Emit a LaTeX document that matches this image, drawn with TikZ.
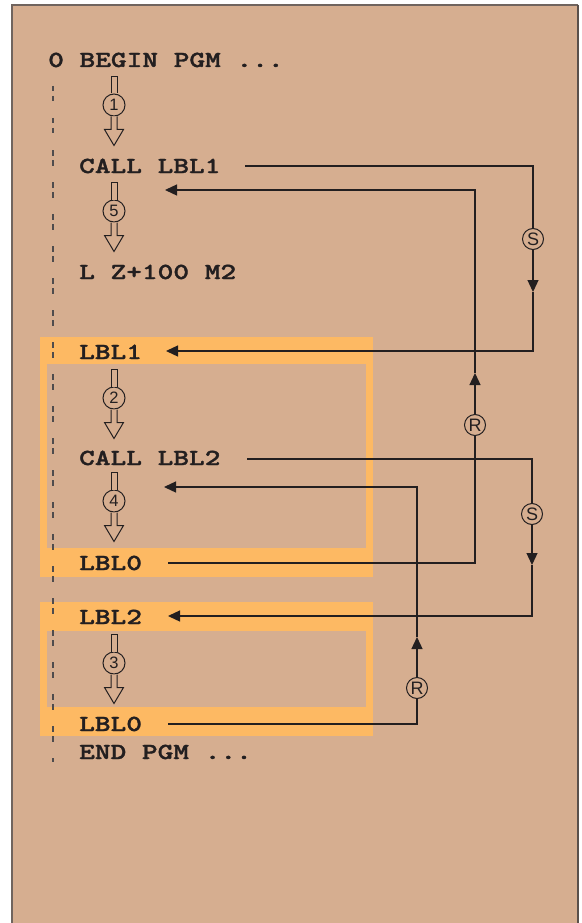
\documentclass[tikz,border=0pt]{standalone}
\usepackage{fontspec}
\usetikzlibrary{arrows.meta}
\newfontfamily\codefont{lmmonolt10-bold.otf}[FakeStretch=1.3,FakeBold=1.6]
\newfontfamily\labelfont{Liberation Sans}
\definecolor{tanbg}{RGB}{214,174,144}
\definecolor{orng}{RGB}{253,185,99}
\definecolor{ink}{RGB}{35,31,32}
\definecolor{frame}{RGB}{112,100,94}
\tikzset{
  code/.style={font=\codefont\fontsize{23}{23}\selectfont, text=ink, inner sep=0pt, anchor=base west},
  conn/.style={draw=ink, line width=1.3pt},
  arrowend/.style={-{Triangle[length=12pt,width=11pt]}},
  sr/.style={circle, draw=ink, line width=1pt, fill=tanbg, minimum size=21pt, inner sep=0pt,
    font=\labelfont\fontsize{18}{18}\selectfont, text=ink},
  stepcirc/.style={circle, draw=ink, line width=1pt, fill=tanbg, minimum size=22pt, inner sep=0pt,
    font=\labelfont\fontsize{16.5}{16.5}\selectfont, text=ink},
  hollow/.style={draw=ink, line width=1pt, fill=tanbg, line join=miter},
  guide/.style={draw=ink!80, line width=1.3pt, dash pattern=on 5.5pt off 4.5pt on 5.5pt off 16.5pt},
  orangeband/.style={fill=orng},
  innerarea/.style={fill=tanbg}
}
\newcommand\flowstep[3]{%
  \node[stepcirc] (#1) at (114,#2) {#3};
  \draw[hollow] ([xshift=-3pt]#1.north) -- ++(0,-17) -- ++(6,0) -- ([xshift=3pt]#1.north);
  \draw[hollow] ([xshift=-3pt]#1.south) -- ++(0,13) -- ++(-6.5,0) -- ++(9.5,16) -- ++(9.5,-16) -- ++(-6.5,0) -- ([xshift=3pt]#1.south);
}
\begin{document}
\begin{tikzpicture}[x=1pt,y=-1pt]
\useasboundingbox (0,0) rectangle (581,923);
\fill[white] (0,0) rectangle (581,923);
% panel
\fill[tanbg] (12,5) rectangle (578,930);
\draw[frame, line width=1.2pt] (12,930) -- (12,5) -- (578,5);
\draw[frame!80!black, line width=2pt] (578,5) -- (578,930);
% orange frames
\fill[orangeband] (40,337) rectangle (373,577);
\fill[innerarea] (47,364) rectangle (366,548);
\fill[orangeband] (40,602) rectangle (373,736);
\fill[innerarea] (47,631) rectangle (366,707);
% dashed guide
\coordinate (gtop) at (53,86);
\coordinate (gbot) at (53,762);
\draw[guide] (gtop) -- (gbot);
% code lines
\node[code] (begin) at (48,67) {0 BEGIN PGM ...};
\node[code] (call1) at (79,173) {CALL LBL1};
\node[code] (lz) at (79,279) {L Z+100 M2};
\node[code] (lbl1) at (79,359) {LBL1};
\node[code] (call2) at (79,465) {CALL LBL2};
\node[code] (lbl0a) at (79,570) {LBL0};
\node[code] (lbl2) at (79,624) {LBL2};
\node[code] (lbl0b) at (79,731) {LBL0};
\node[code] (endp) at (79,759) {END PGM ...};
% flow steps
\flowstep{st1}{105}{1}
\flowstep{st5}{211}{5}
\flowstep{st2}{398}{2}
\flowstep{st4}{501}{4}
\flowstep{st3}{663}{3}
% call LBL1 -> LBL1
\coordinate (s1start) at (245,166);
\node[sr] (S1) at (533,239) {S};
\coordinate (s1mid) at (533,292);
\coordinate (s1end) at (166,351);
\draw[conn] (s1start) -| (S1.north);
\draw[conn,arrowend] (S1.south) -- (s1mid);
\draw[conn,arrowend] (s1mid) |- (s1end);
% LBL0 -> back after CALL LBL1
\coordinate (r1start) at (168,563);
\node[sr] (R1) at (475,425) {R};
\coordinate (r1mid) at (475,373);
\coordinate (r1end) at (165,190);
\draw[conn] (r1start) -| (R1.south);
\draw[conn,arrowend] (R1.north) -- (r1mid);
\draw[conn,arrowend] (r1mid) |- (r1end);
% call LBL2 -> LBL2
\coordinate (s2start) at (247,459);
\node[sr] (S2) at (532,514) {S};
\coordinate (s2mid) at (532,565);
\coordinate (s2end) at (168,616);
\draw[conn] (s2start) -| (S2.north);
\draw[conn,arrowend] (S2.south) -- (s2mid);
\draw[conn,arrowend] (s2mid) |- (s2end);
% LBL0 -> back after CALL LBL2
\coordinate (r2start) at (168,724);
\node[sr] (R2) at (417,688) {R};
\coordinate (r2mid) at (417,637);
\coordinate (r2end) at (164,487);
\draw[conn] (r2start) -| (R2.south);
\draw[conn,arrowend] (R2.north) -- (r2mid);
\draw[conn,arrowend] (r2mid) |- (r2end);
\end{tikzpicture}
\end{document}
